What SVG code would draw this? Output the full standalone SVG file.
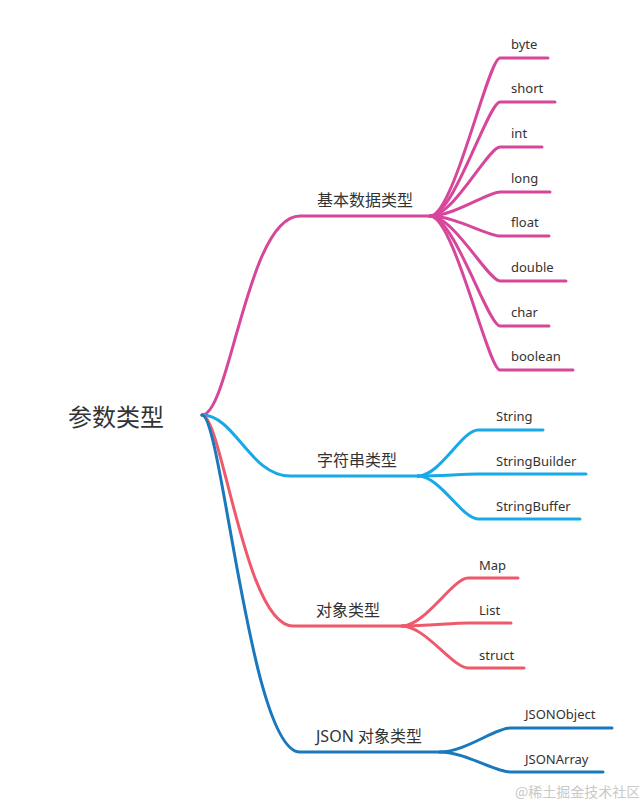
<svg xmlns="http://www.w3.org/2000/svg" width="639" height="804" viewBox="0 0 639 804">
<style>
  text { font-family: "Noto Sans", "Noto Sans CJK SC", sans-serif; fill: #333333; }
  .root { font-size: 24px; }
  .branch { font-size: 16px; }
  .leaf { font-size: 13px; }
  .wm { font-size: 14px; fill: #c9c9c9; font-family: "Noto Sans CJK SC", sans-serif; }
  path { fill: none; stroke-width: 3; stroke-linecap: round; }
  .pink { stroke: #d6479b; }
  .sky { stroke: #18a9e8; }
  .red { stroke: #ee5a6c; }
  .navy { stroke: #1a78bd; }
</style>
<rect width="639" height="804" fill="#ffffff"/>
<g id="connectors">
  <path class="pink" d="M202,415 C230,415 247,216 300,216 L430,216"/>
  <path class="sky" d="M202,415 C235,415 250,476 290,476 L418,476"/>
  <path class="red" d="M202,415 C222,415 245,626 293,626 L402,626"/>
  <path class="navy" d="M202,415 C222,415 250,752 300,752 L440,752"/>
  <path class="pink" d="M430,216 C454,216 488,58 500,58 L548,58"/>
  <path class="pink" d="M430,216 C454,216 488,102 500,102 L555,102"/>
  <path class="pink" d="M430,216 C454,216 488,147 500,147 L542,147"/>
  <path class="pink" d="M430,216 C454,216 488,192 500,192 L550,192"/>
  <path class="pink" d="M430,216 C454,216 488,236 500,236 L549,236"/>
  <path class="pink" d="M430,216 C454,216 488,281 500,281 L566,281"/>
  <path class="pink" d="M430,216 C454,216 488,326 500,326 L549,326"/>
  <path class="pink" d="M430,216 C454,216 488,370 500,370 L573,370"/>
  <path class="sky" d="M418,476 C440,476 462,430 478,430 L543,430"/>
  <path class="sky" d="M418,476 C440,476 462,474 478,474 L586,474"/>
  <path class="sky" d="M418,476 C440,476 462,519 478,519 L580,519"/>
  <path class="red" d="M402,626 C425,626 453,578 468,578 L518,578"/>
  <path class="red" d="M402,626 C425,626 453,623 468,623 L511,623"/>
  <path class="red" d="M402,626 C425,626 453,668 468,668 L524,668"/>
  <path class="navy" d="M440,752 C465,752 495,728 510,728 L612,728"/>
  <path class="navy" d="M440,752 C465,752 495,772 510,772 L603,772"/>
</g>
<g id="root"><text class="root" x="68" y="426">参数类型</text></g>
<g id="basic"><text class="branch" x="317" y="206">基本数据类型</text></g>
<g id="string"><text class="branch" x="317" y="466">字符串类型</text></g>
<g id="object"><text class="branch" x="316" y="616">对象类型</text></g>
<g id="json"><text class="branch" x="316" y="742">JSON 对象类型</text></g>
<g id="byte"><text class="leaf" x="511" y="48.5">byte</text></g>
<g id="short"><text class="leaf" x="511" y="93">short</text></g>
<g id="int"><text class="leaf" x="511" y="138">int</text></g>
<g id="long"><text class="leaf" x="511" y="183">long</text></g>
<g id="float"><text class="leaf" x="511" y="227">float</text></g>
<g id="double"><text class="leaf" x="511" y="272">double</text></g>
<g id="char"><text class="leaf" x="511" y="317">char</text></g>
<g id="boolean"><text class="leaf" x="511" y="361">boolean</text></g>
<g id="String"><text class="leaf" x="496" y="421">String</text></g>
<g id="StringBuilder"><text class="leaf" x="496" y="466">StringBuilder</text></g>
<g id="StringBuffer"><text class="leaf" x="496" y="511">StringBuffer</text></g>
<g id="Map"><text class="leaf" x="479" y="570">Map</text></g>
<g id="List"><text class="leaf" x="479" y="615">List</text></g>
<g id="struct"><text class="leaf" x="479" y="660">struct</text></g>
<g id="JSONObject"><text class="leaf" x="525" y="719">JSONObject</text></g>
<g id="JSONArray"><text class="leaf" x="525" y="764">JSONArray</text></g>
<text class="wm" x="515" y="797">@稀土掘金技术社区</text>
</svg>
